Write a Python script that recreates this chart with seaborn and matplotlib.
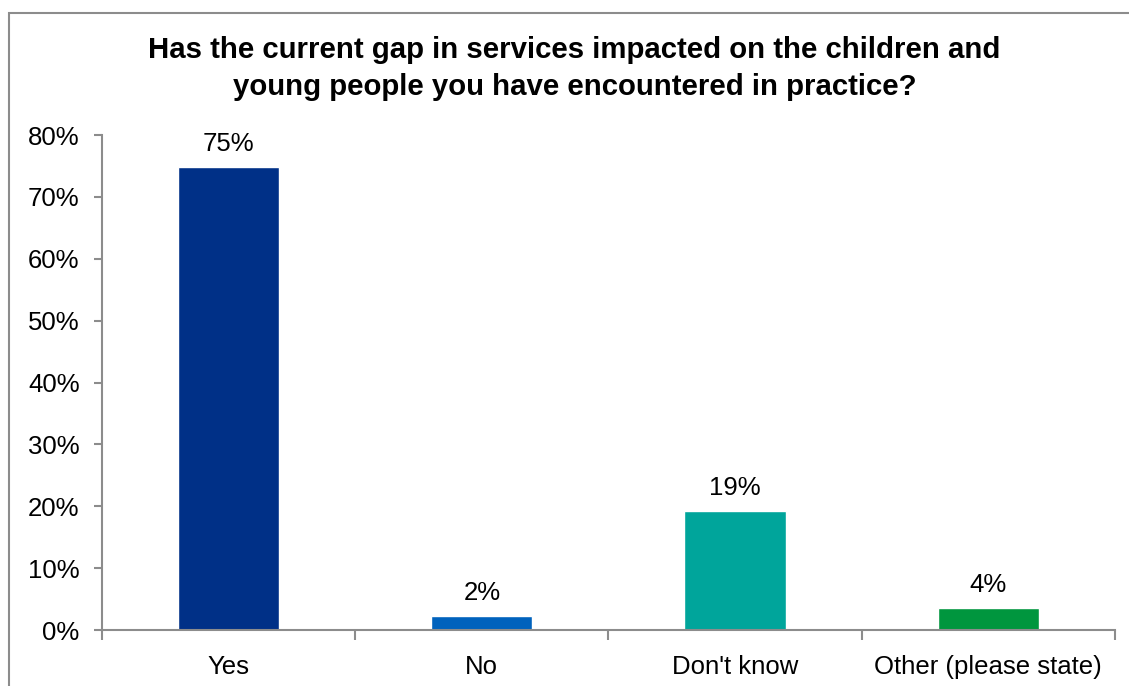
import matplotlib
matplotlib.use("Agg")
import matplotlib.pyplot as plt
import numpy as np
import pandas as pd
import seaborn as sns
from matplotlib.patches import Rectangle
from matplotlib.ticker import FixedLocator, PercentFormatter

# ---- data ----
categories = ["Yes", "No", "Don't know", "Other (please state)"]
shares = [0.748, 0.023, 0.192, 0.036]
bar_colors = ["#003087", "#0062BD", "#00A59B", "#00963E"]
title = ("Has the current gap in services impacted on the children and\n"
         "young people you have encountered in practice?")

df = pd.DataFrame({"answer": categories, "share": shares})

sns.set_theme(style="white")
plt.rcParams["font.family"] = ["Liberation Sans", "DejaVu Sans"]
plt.rcParams["text.color"] = "black"

fig = plt.figure(figsize=(11.29, 6.86), dpi=100)
ax = fig.add_axes([0.0903, 0.0816, 0.8973, 0.7216])

sns.barplot(data=df, x="answer", y="share", hue="answer", palette=bar_colors,
            width=0.40, legend=False, ax=ax, saturation=1)

for patch, v in zip(ax.patches, shares):
    ax.annotate(f"{round(v * 100):.0f}%",
                (patch.get_x() + patch.get_width() / 2, patch.get_height()),
                xytext=(0, 8), textcoords="offset points",
                ha="center", va="bottom", fontsize=18.5, color="black")

ax.set_ylim(0, 0.8)
ax.set_xlim(-0.5, len(categories) - 0.5)
ax.set_yticks(np.arange(0, 0.81, 0.1))
ax.yaxis.set_major_formatter(PercentFormatter(1.0, decimals=0))
ax.set_xlabel("")
ax.set_ylabel("")

grey = "#8c8c8c"
for side in ["top", "right"]:
    ax.spines[side].set_visible(False)
for side in ["left", "bottom"]:
    ax.spines[side].set_color(grey)
    ax.spines[side].set_linewidth(1.5)

ax.tick_params(axis="y", left=True, length=6, width=1.5, color=grey,
               labelsize=18.5, labelcolor="black", pad=10)
ax.tick_params(axis="x", which="major", bottom=False, labelsize=18.5,
               labelcolor="black", pad=12)
ax.xaxis.set_minor_locator(FixedLocator(np.arange(-0.5, len(categories), 1.0)))
ax.tick_params(axis="x", which="minor", bottom=True, length=7, width=1.5,
               color=grey)

fig.text(0.509, 0.900, title, ha="center", va="center", fontsize=21.2,
         fontweight="bold", linespacing=1.38, color="black")

# chart frame
fig.patches.append(Rectangle((9 / 1129, -0.01), 1.2, 1 - 13 / 686 + 0.01,
                             transform=fig.transFigure, fill=False,
                             edgecolor=grey, linewidth=1.5))

fig.savefig("out.png", dpi=100)
